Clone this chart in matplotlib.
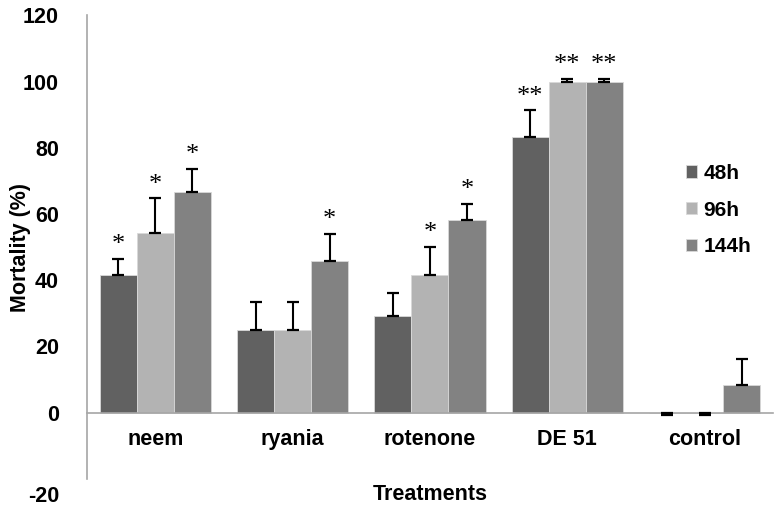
import numpy as np
import matplotlib
matplotlib.use("Agg")
import matplotlib.pyplot as plt
import matplotlib.transforms as mtransforms

# --- data ---
treatments = ["neem", "ryania", "rotenone", "DE 51", "control"]
series = ["48h", "96h", "144h"]

mort_48 = [41.7, 25.0, 29.2, 83.3, 0.0]
mort_96 = [54.2, 25.0, 41.7, 100.0, 0.0]
mort_144 = [66.7, 45.8, 58.3, 100.0, 8.3]

err_48 = [4.7, 8.3, 6.9, 8.0, 0.8]
err_96 = [10.5, 8.3, 8.3, 0.8, 0.8]
err_144 = [6.9, 8.2, 4.7, 0.8, 7.9]

# error bar goes down for the zero-valued control bars
down_48 = [False, False, False, False, True]
down_96 = [False, False, False, False, True]
down_144 = [False, False, False, False, False]

stars_48 = ["*", "", "", "**", ""]
stars_96 = ["*", "", "*", "**", ""]
stars_144 = ["*", "*", "*", "**", ""]

colors = ["#616161", "#b3b3b3", "#828282"]

plt.rcParams['font.family'] = ['Liberation Sans', 'DejaVu Sans']
plt.rcParams['axes.unicode_minus'] = False

fig = plt.figure(figsize=(7.81, 5.11), dpi=100)
ax = fig.add_axes([0.111, 0.063, 0.879, 0.907])

# spines first: moving a spine resets the ticks
ax.spines["top"].set_visible(False)
ax.spines["right"].set_visible(False)
ax.spines["bottom"].set_position(("data", 0))
ax.spines["bottom"].set_color("#a6a6a6")
ax.spines["left"].set_color("#a6a6a6")
ax.spines["bottom"].set_linewidth(1.2)
ax.spines["left"].set_linewidth(1.2)

x = np.arange(len(treatments))
width = 0.27
offsets = [-width, 0, width]

all_vals = [mort_48, mort_96, mort_144]
all_errs = [err_48, err_96, err_144]
all_down = [down_48, down_96, down_144]
all_stars = [stars_48, stars_96, stars_144]

for i in range(3):
    xpos = x + offsets[i]
    ax.bar(xpos, all_vals[i], width, color=colors[i], edgecolor="#d9d9d9",
           linewidth=0.6, label=series[i], zorder=2)
    lower = [e if d else 0 for e, d in zip(all_errs[i], all_down[i])]
    upper = [0 if d else e for e, d in zip(all_errs[i], all_down[i])]
    ax.errorbar(xpos, all_vals[i], yerr=[lower, upper], fmt="none",
                ecolor="black", elinewidth=1.5, capsize=4, capthick=1.6, zorder=3)
    for xp, v, e, s in zip(xpos, all_vals[i], upper, all_stars[i]):
        if s:
            ax.annotate(s, (xp, v + e), xytext=(0, 2), textcoords="offset points",
                        ha="center", va="bottom", fontsize=19,
                        family="Liberation Serif")

ax.set_xlim(-0.5, len(treatments) - 0.5)
ax.set_ylim(-20, 120)
ax.set_yticks(np.arange(-20, 121, 20))
ax.set_xticks(x)
ax.set_xticklabels(treatments, fontweight="bold")
ax.tick_params(axis="y", length=0, pad=20, labelsize=15.5)
ax.tick_params(axis="x", length=0, pad=12, labelsize=15.5)
for lab in ax.get_yticklabels() + ax.get_xticklabels():
    lab.set_fontweight("bold")

# the "-20" label sits a little lower in the original
low = ax.get_yticklabels()[0]
low.set_transform(low.get_transform() +
                  mtransforms.ScaledTranslation(0, -0.15, fig.dpi_scale_trans))

fig.text(0.026, 0.516, "Mortality (%)", rotation=90, ha="center", va="center",
         fontsize=15.5, fontweight="bold")
fig.text(0.551, 0.033, "Treatments", ha="center", va="center",
         fontsize=15.5, fontweight="bold")

leg = ax.legend(loc="upper left", bbox_to_anchor=(0.845, 0.72), frameon=False,
                handlelength=0.55, handleheight=0.55, handletextpad=0.3,
                labelspacing=0.85, prop={"weight": "bold", "size": 15})

fig.savefig("out.png", dpi=100)
